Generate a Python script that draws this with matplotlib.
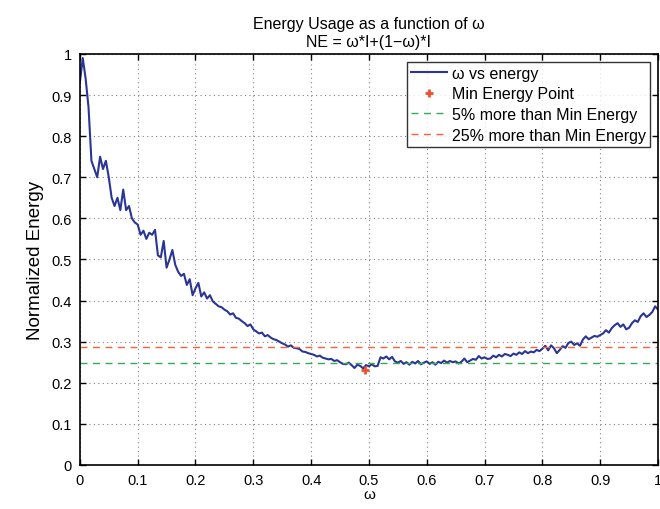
import numpy as np
import matplotlib
matplotlib.use("Agg")
import matplotlib.pyplot as plt

plt.rcParams['font.family'] = ['Liberation Sans', 'DejaVu Sans']

# omega grid and normalized energy
omega = np.round(np.arange(0, 1.0001, 0.005), 3)
energy = [
    0.93, 0.99, 0.94, 0.87, 0.74, 0.72, 0.70, 0.75, 0.72, 0.74,
    0.70, 0.65, 0.63, 0.65, 0.62, 0.67, 0.62, 0.63, 0.60, 0.59,
    0.585, 0.56, 0.57, 0.55, 0.565, 0.56, 0.572, 0.51, 0.505, 0.545,
    0.48, 0.50, 0.523, 0.487, 0.47, 0.46, 0.465, 0.438, 0.452, 0.413,
    0.43, 0.443, 0.41, 0.42, 0.405, 0.413, 0.398, 0.392, 0.386, 0.384,
    0.378, 0.374, 0.366, 0.369, 0.358, 0.356, 0.350, 0.345, 0.338, 0.342,
    0.33, 0.325, 0.320, 0.322, 0.313, 0.316, 0.310, 0.306, 0.304, 0.300,
    0.296, 0.293, 0.288, 0.291, 0.285, 0.284, 0.282, 0.276, 0.275, 0.272,
    0.270, 0.268, 0.264, 0.266, 0.261, 0.259, 0.257, 0.258, 0.253, 0.255,
    0.250, 0.246, 0.245, 0.249, 0.243, 0.236, 0.244, 0.241, 0.235, 0.243,
    0.240, 0.245, 0.240, 0.241, 0.262, 0.259, 0.264, 0.257, 0.263, 0.252,
    0.249, 0.253, 0.246, 0.250, 0.244, 0.251, 0.247, 0.253, 0.245, 0.249,
    0.252, 0.246, 0.250, 0.244, 0.251, 0.248, 0.254, 0.249, 0.253, 0.250,
    0.252, 0.247, 0.251, 0.259, 0.250, 0.254, 0.258, 0.256, 0.265, 0.259,
    0.262, 0.258, 0.259, 0.266, 0.262, 0.268, 0.264, 0.270, 0.268, 0.265,
    0.271, 0.268, 0.274, 0.270, 0.277, 0.272, 0.276, 0.274, 0.280, 0.277,
    0.283, 0.290, 0.279, 0.291, 0.284, 0.272, 0.280, 0.289, 0.285, 0.297,
    0.300, 0.292, 0.296, 0.290, 0.305, 0.313, 0.306, 0.310, 0.314, 0.312,
    0.316, 0.320, 0.328, 0.322, 0.333, 0.340, 0.345, 0.336, 0.342, 0.330,
    0.334, 0.345, 0.352, 0.348, 0.362, 0.369, 0.360, 0.365, 0.372, 0.386,
    0.378,
]
min_omega = 0.493
min_energy = 0.230
level_5pct = 0.247
level_25pct = 0.287

tick_vals = np.arange(0, 1.01, 0.1)
tick_labels = ['0', '0.1', '0.2', '0.3', '0.4', '0.5', '0.6', '0.7', '0.8', '0.9', '1']

fig = plt.figure(figsize=(6.6, 5.1), dpi=100)
ax = fig.add_axes([0.121, 0.0863, 0.876, 0.806])

ax.plot(omega, energy, color='#2a3595', lw=1.5, label='ω vs energy')
ax.plot([min_omega], [min_energy], '+', color='#f0502a', ms=6, mew=2,
        label='Min Energy Point')
ax.axhline(level_5pct, color='#35a85a', ls='--', lw=1, dashes=(5, 4),
           label='5% more than Min Energy')
ax.axhline(level_25pct, color='#f2643c', ls='--', lw=1, dashes=(5, 4),
           label='25% more than Min Energy')

ax.set_xlim(0, 1)
ax.set_ylim(0, 1)
ax.set_xticks(tick_vals)
ax.set_yticks(tick_vals)
ax.set_xticklabels(tick_labels)
ax.set_yticklabels(tick_labels)
ax.tick_params(direction='in', top=True, right=True, labelsize=10.5,
               length=4, width=1, pad=6)
ax.grid(True, color='#808080', ls=(0, (1, 3)), lw=0.8)
for s in ax.spines.values():
    s.set_linewidth(1.2)

ax.set_xlabel('ω', fontsize=11, labelpad=0)
ax.set_ylabel('Normalized Energy', fontsize=13.5, labelpad=5)
ax.set_title('Energy Usage as a function of ω\nNE = ω*I+(1−ω)*I', fontsize=11.5, pad=6)

leg = ax.legend(loc='upper right', fontsize=11.5, frameon=True, fancybox=False,
                edgecolor='black', borderaxespad=0.5, handlelength=2.3,
                labelspacing=0.35, borderpad=0.25, handletextpad=0.3)
leg.get_frame().set_linewidth(1)

fig.savefig('out.png', dpi=100)
